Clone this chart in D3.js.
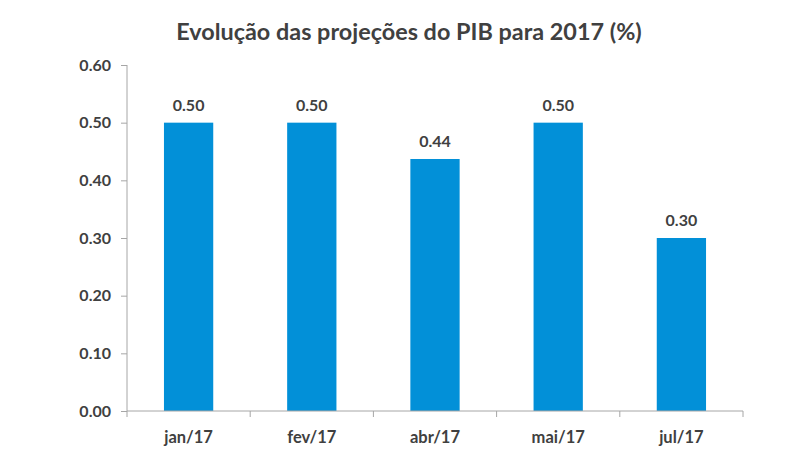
<!DOCTYPE html>
<html><head><meta charset="utf-8">
<script src="https://cdn.jsdelivr.net/npm/d3@7"></script>
<style>body{margin:0;background:#fff}svg{display:block;font-family:Lato,"Open Sans",sans-serif}</style>
</head><body>
<script>
const categories = ["jan/17","fev/17","abr/17","mai/17","jul/17"];
const values = [0.50, 0.50, 0.437, 0.50, 0.30];
const yTicks = [0, 0.1, 0.2, 0.3, 0.4, 0.5, 0.6];
const title = "Evolução das projeções do PIB para 2017 (%)";

const W = 807, H = 471;
const m = {left:127, right:64, top:65, bottom:60};
const svg = d3.select("body").append("svg").attr("width",W).attr("height",H);
const x = d3.scaleBand().domain(categories).range([m.left, W-m.right]).paddingInner(0.6).paddingOuter(0.3);
const y = d3.scaleLinear().domain([0,0.6]).range([H-m.bottom, m.top]);
const txt = "#404040", axc = "#a6a6a6";

svg.append("text").attr("x",409).attr("y",40).attr("text-anchor","middle")
  .attr("font-size",23.4).attr("font-weight","bold").attr("fill",txt).text(title);

// y axis
const ya = svg.append("g").attr("transform",`translate(${m.left},0)`)
  .call(d3.axisLeft(y).tickValues(yTicks).tickFormat(d3.format(".2f")).tickSize(6).tickPadding(10));
ya.select(".domain").attr("stroke",axc).attr("d",`M0,${y(0.6)}V${y(0)}`);
ya.selectAll(".tick line").attr("stroke",axc);
ya.selectAll(".tick text").attr("fill",txt).attr("font-size",16).attr("font-weight","bold").attr("font-family","Lato,sans-serif");

// bars
svg.selectAll("rect.bar").data(values).join("rect").attr("class","bar")
  .attr("x",(d,i)=>x(categories[i])).attr("width",x.bandwidth())
  .attr("y",d=>y(d)).attr("height",d=>y(0)-y(d)).attr("fill","#0290d8");

// value labels
svg.selectAll("text.val").data(values).join("text").attr("class","val")
  .attr("x",(d,i)=>x(categories[i])+x.bandwidth()/2).attr("y",d=>y(d)-12)
  .attr("text-anchor","middle").attr("font-size",16).attr("font-weight","bold").attr("fill",txt)
  .text(d=>d3.format(".2f")(d));

// x axis
const xa = svg.append("g").attr("transform",`translate(0,${y(0)})`);
xa.append("line").attr("x1",m.left).attr("x2",W-m.right).attr("stroke",axc);
const step = x.step();
const bounds = d3.range(categories.length+1).map(i=>m.left + i*step);
xa.selectAll("line.tk").data(bounds).join("line").attr("class","tk")
  .attr("x1",d=>d).attr("x2",d=>d).attr("y1",0).attr("y2",6).attr("stroke",axc);
xa.selectAll("text").data(categories).join("text")
  .attr("x",d=>x(d)+x.bandwidth()/2).attr("y",32).attr("text-anchor","middle")
  .attr("font-size",16.5).attr("font-weight","bold").attr("fill",txt).text(d=>d);
</script>
</body></html>
